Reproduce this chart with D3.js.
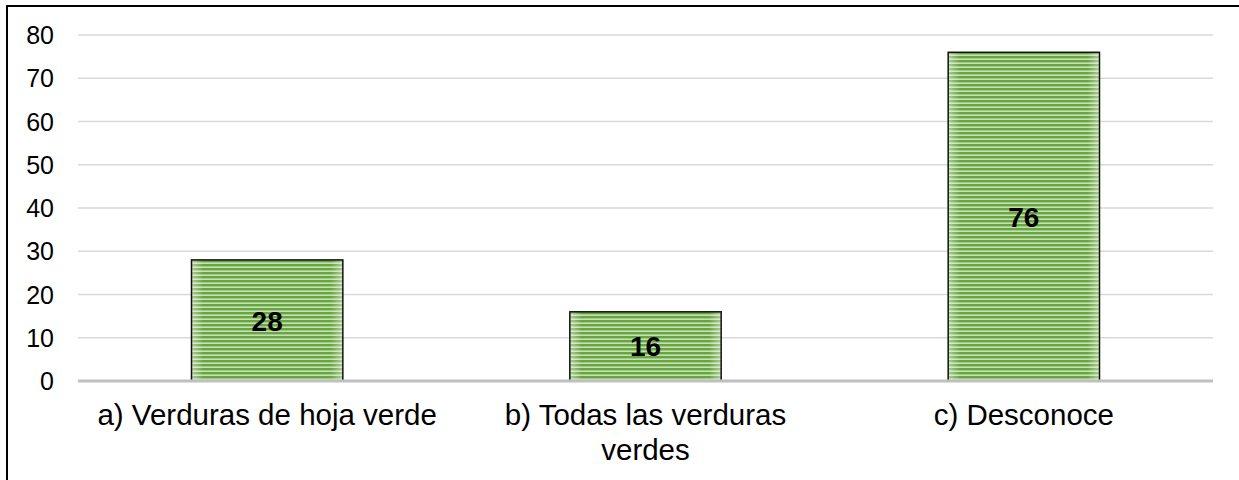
<!DOCTYPE html>
<html>
<head>
<meta charset="utf-8">
<script src="https://cdn.jsdelivr.net/npm/d3@7"></script>
<style>
  body { margin: 0; background: #fff; }
  text { font-family: "Liberation Sans", Arial, sans-serif; }
</style>
</head>
<body>
<div id="chart"></div>
<script>
// categories and values
var categories = ["a) Verduras de hoja verde", "b) Todas las verduras verdes", "c) Desconoce"];
var categoryLines = [["a) Verduras de hoja verde"], ["b) Todas las verduras", "verdes"], ["c) Desconoce"]];
var values = [28, 16, 76];
var yTicks = [0, 10, 20, 30, 40, 50, 60, 70, 80];

var width = 1239, height = 480;
var margin = {top: 35, right: 26, bottom: 99, left: 78};

var svg = d3.select("#chart").append("svg")
    .attr("width", width)
    .attr("height", height);

// outer frame (runs off the right and bottom edges like the original)
svg.append("rect")
    .attr("x", 7).attr("y", 6)
    .attr("width", width + 10).attr("height", height + 10)
    .attr("fill", "none")
    .attr("stroke", "#000")
    .attr("stroke-width", 2);

var defs = svg.append("defs");

// horizontal stripe fill
var pat = defs.append("pattern")
    .attr("id", "stripes")
    .attr("patternUnits", "userSpaceOnUse")
    .attr("width", 8).attr("height", 4);
pat.append("rect").attr("width", 8).attr("height", 4).attr("fill", "#c6e0b4");
pat.append("rect").attr("y", 0).attr("width", 8).attr("height", 2.4).attr("fill", "#67a540");

// soft light edges on left/right of each bar
var grad = defs.append("linearGradient")
    .attr("id", "edge")
    .attr("x1", "0").attr("x2", "1").attr("y1", "0").attr("y2", "0");
grad.append("stop").attr("offset", "0").attr("stop-color", "#fff").attr("stop-opacity", 0.45);
grad.append("stop").attr("offset", "0.08").attr("stop-color", "#fff").attr("stop-opacity", 0);
grad.append("stop").attr("offset", "0.92").attr("stop-color", "#fff").attr("stop-opacity", 0);
grad.append("stop").attr("offset", "1").attr("stop-color", "#fff").attr("stop-opacity", 0.45);

var x = d3.scaleBand()
    .domain(categories)
    .range([margin.left, width - margin.right])
    .paddingInner(0.6)
    .paddingOuter(0.3);

var y = d3.scaleLinear()
    .domain([0, 80])
    .range([height - margin.bottom, margin.top]);

// gridlines
svg.append("g").selectAll("line")
    .data(yTicks.filter(function(d) { return d > 0; }))
    .enter().append("line")
    .attr("x1", margin.left).attr("x2", width - margin.right)
    .attr("y1", function(d) { return y(d); })
    .attr("y2", function(d) { return y(d); })
    .attr("stroke", "#d9d9d9")
    .attr("stroke-width", 1.3);

// y tick labels
svg.append("g").selectAll("text")
    .data(yTicks)
    .enter().append("text")
    .attr("x", 54)
    .attr("y", function(d) { return y(d); })
    .attr("dy", "0.36em")
    .attr("text-anchor", "end")
    .attr("font-size", 25)
    .attr("fill", "#000")
    .text(function(d) { return d; });

var data = categories.map(function(c, i) { return {cat: c, value: values[i], lines: categoryLines[i]}; });

// bars
var bars = svg.append("g").selectAll("g")
    .data(data)
    .enter().append("g");

bars.append("rect")
    .attr("x", function(d) { return x(d.cat); })
    .attr("y", function(d) { return y(d.value); })
    .attr("width", x.bandwidth())
    .attr("height", function(d) { return y(0) - y(d.value); })
    .attr("fill", "url(#stripes)");

bars.append("rect")
    .attr("x", function(d) { return x(d.cat); })
    .attr("y", function(d) { return y(d.value); })
    .attr("width", x.bandwidth())
    .attr("height", function(d) { return y(0) - y(d.value); })
    .attr("fill", "url(#edge)")
    .attr("stroke", "#111")
    .attr("stroke-width", 1.5);

// value labels
bars.append("text")
    .attr("x", function(d) { return x(d.cat) + x.bandwidth() / 2; })
    .attr("y", function(d) { return (y(d.value) + y(0)) / 2; })
    .attr("dy", "0.36em")
    .attr("text-anchor", "middle")
    .attr("font-size", 28)
    .attr("font-weight", "bold")
    .attr("fill", "#000")
    .text(function(d) { return d.value; });

// baseline axis
svg.append("line")
    .attr("x1", margin.left).attr("x2", width - margin.right)
    .attr("y1", y(0)).attr("y2", y(0))
    .attr("stroke", "#bfbfbf")
    .attr("stroke-width", 3);

// category labels
var catLabels = svg.append("g").selectAll("text")
    .data(data)
    .enter().append("text")
    .attr("text-anchor", "middle")
    .attr("font-size", 29.5)
    .attr("fill", "#000")
    .attr("x", function(d) { return x(d.cat) + x.bandwidth() / 2; })
    .attr("y", y(0) + 44);

catLabels.selectAll("tspan")
    .data(function(d) { return d.lines; })
    .enter().append("tspan")
    .attr("x", function() { var p = d3.select(this.parentNode).datum(); return x(p.cat) + x.bandwidth() / 2; })
    .attr("dy", function(d, i) { return i === 0 ? 0 : 35; })
    .text(function(d) { return d; });
</script>
</body>
</html>
